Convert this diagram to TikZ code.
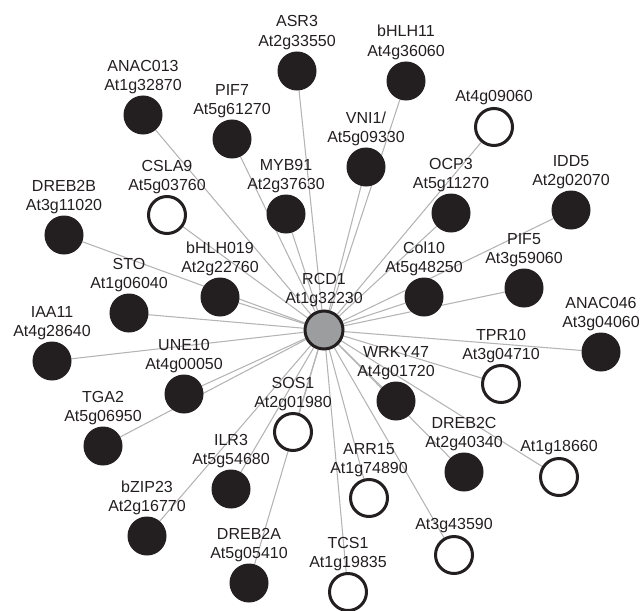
\documentclass[tikz,border=0pt]{standalone}
\usepackage{fontspec}
\setmainfont{Liberation Sans}
\usetikzlibrary{backgrounds}
\definecolor{nblack}{HTML}{231F20}
\definecolor{ngray}{HTML}{9C9D9F}
\definecolor{egray}{HTML}{B4B4B4}
\tikzset{
  filled/.style={circle, fill=nblack, draw=nblack, line width=0.75pt, minimum size=28.5pt, inner sep=0pt},
  hollow/.style={circle, fill=white, draw=nblack, line width=2.25pt, minimum size=27.75pt, inner sep=0pt},
  hub/.style={circle, fill=ngray, draw=nblack, line width=2.25pt, minimum size=28.5pt, inner sep=0pt},
  lbl/.style={anchor=base, inner sep=0pt, font=\fontsize{12pt}{14pt}\selectfont, text=nblack},
  edge/.style={draw=egray, line width=0.8pt}
}
\newcommand{\gn}[6]{%
  \node[#4] (#1) at (#2,#3) {};
  \node[lbl] (#1-a) at (#2,#3-44) {#5};
  \node[lbl] (#1-b) at (#2,#3-24.5) {#6};
  \begin{scope}[on background layer]\draw[edge] (RCD1) -- (#1);\end{scope}%
}
\newcommand{\gs}[5]{%
  \node[#4] (#1) at (#2,#3) {};
  \node[lbl] (#1-a) at (#2,#3-25.5) {#5};
  \begin{scope}[on background layer]\draw[edge] (RCD1) -- (#1);\end{scope}%
}
\begin{document}
\begin{tikzpicture}[x=0.75pt,y=-0.75pt]
\useasboundingbox (0,0) rectangle (641,610);
\clip (0,0) rectangle (641,610);
\node[hub] (RCD1) at (324,330) {};
\node[lbl] (RCD1-a) at (324,330-46) {RCD1};
\node[lbl] (RCD1-b) at (324,330-27) {At1g32230};
\gn{ASR3}{297}{71}{filled}{ASR3}{At2g33550}
\gn{bHLH11}{406}{81}{filled}{bHLH11}{At4g36060}
\gn{ANAC013}{143}{115}{filled}{ANAC013}{At1g32870}
\gn{PIF7}{232}{139}{filled}{PIF7}{At5g61270}
\gs{At4g09060}{494}{127}{hollow}{At4g09060}
\gn{VNI1}{366}{167}{filled}{VNI1/}{At5g09330}
\gn{CSLA9}{167}{215}{hollow}{CSLA9}{At5g03760}
\gn{MYB91}{286}{214}{filled}{MYB91}{At2g37630}
\gn{OCP3}{451}{213}{filled}{OCP3}{At5g11270}
\gn{IDD5}{571}{210}{filled}{IDD5}{At2g02070}
\gn{DREB2B}{64}{235}{filled}{DREB2B}{At3g11020}
\gn{bHLH019}{220}{297}{filled}{bHLH019}{At2g22760}
\gn{Col10}{424}{297}{filled}{Col10}{At5g48250}
\gn{PIF5}{524}{288}{filled}{PIF5}{At3g59060}
\gn{STO}{129}{313}{filled}{STO}{At1g06040}
\gn{ANAC046}{601}{352}{filled}{ANAC046}{At3g04060}
\gn{IAA11}{52}{361}{filled}{IAA11}{At4g28640}
\gn{TPR10}{501}{384}{hollow}{TPR10}{At3g04710}
\gn{UNE10}{184}{394}{filled}{UNE10}{At4g00050}
\gn{WRKY47}{396}{401}{filled}{WRKY47}{At4g01720}
\gn{SOS1}{293}{432}{hollow}{SOS1}{At2g01980}
\gn{TGA2}{103}{446}{filled}{TGA2}{At5g06950}
\gn{DREB2C}{464}{472}{filled}{DREB2C}{At2g40340}
\gs{At1g18660}{559}{477}{hollow}{At1g18660}
\gn{ILR3}{231}{489}{filled}{ILR3}{At5g54680}
\gn{ARR15}{369}{498}{hollow}{ARR15}{At1g74890}
\gn{bZIP23}{147}{536}{filled}{bZIP23}{At2g16770}
\gs{At3g43590}{454}{555}{hollow}{At3g43590}
\gn{DREB2A}{249}{583}{filled}{DREB2A}{At5g05410}
\gn{TCS1}{348}{592}{hollow}{TCS1}{At1g19835}
\end{tikzpicture}
\end{document}
